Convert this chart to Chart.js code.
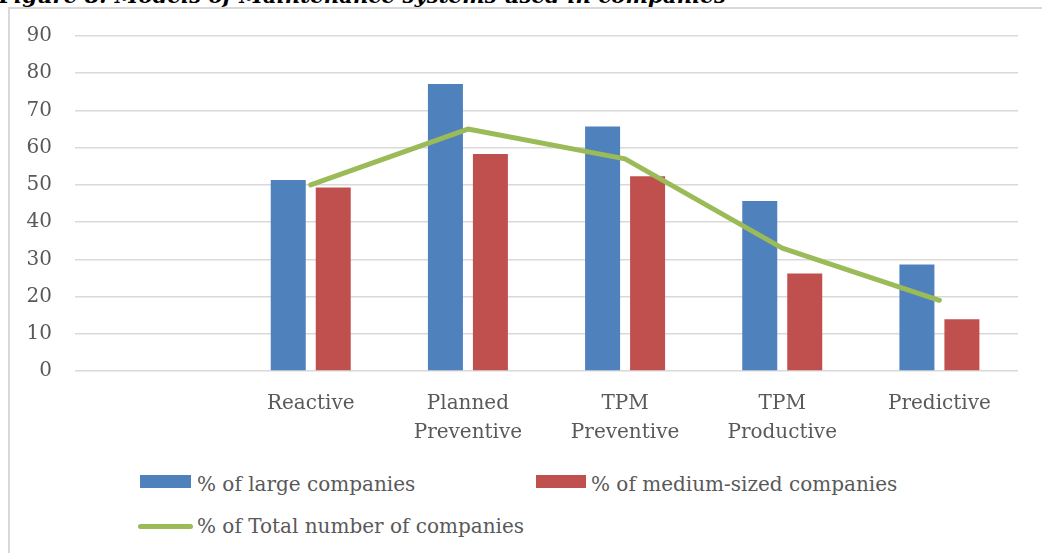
<!DOCTYPE html>
<html>
<head>
<meta charset="utf-8">
<script src="https://cdn.jsdelivr.net/npm/chart.js@4.4.1/dist/chart.umd.min.js"></script>
<style>
  html, body { margin: 0; padding: 0; background: #fff; }
  body { width: 1042px; height: 553px; position: relative; overflow: hidden; font-family: "DejaVu Serif", serif; }
  #title { position: absolute; left: -1px; top: -15px; font: italic bold 21.3px/21px "DejaVu Serif", serif; color: #000; white-space: nowrap; }
  #frame { position: absolute; left: 8px; top: 7px; width: 1100px; height: 600px; border-left: 2px solid #D9D9D9; border-top: 2px solid #D9D9D9; }
  #chart { position: absolute; left: 0; top: 0; }
  .leg-text { position: absolute; font-size: 20px; line-height: 24px; color: #595959; white-space: nowrap; }
  .leg-box { position: absolute; }
</style>
</head>
<body>
<div id="title">Figure 8: Models of Maintenance systems used in companies</div>
<div id="frame"></div>
<canvas id="chart" width="1042" height="450"></canvas>
<div id="legend"></div>

<script>
/* ---------- data ---------- */
const categories = ["", "Reactive", ["Planned", "Preventive"], ["TPM", "Preventive"], ["TPM", "Productive"], "Predictive"];
const largeCompanies = [null, 51.3, 77.1, 65.7, 45.7, 28.6];
const mediumCompanies = [null, 49.3, 58.3, 52.3, 26.2, 13.9];
const totalCompanies = [null, 50, 65, 57, 33, 19];
const yMin = 0, yMax = 90, yStep = 10;

const seriesNames = ["% of large companies", "% of medium-sized companies", "% of Total number of companies"];
const seriesColors = ["#4F81BD", "#C0504D", "#9BBB59"];

const textColor = "#595959";
const gridColor = "#D9D9D9";
const fontFamily = "'DejaVu Serif', serif";

const chart = new Chart(document.getElementById("chart"), {
  type: "bar",
  data: {
    labels: categories,
    datasets: [
      { label: seriesNames[0], data: largeCompanies, backgroundColor: seriesColors[0], order: 2,
        categoryPercentage: 0.5725, barPercentage: 0.778 },
      { label: seriesNames[1], data: mediumCompanies, backgroundColor: seriesColors[1], order: 2,
        categoryPercentage: 0.5725, barPercentage: 0.778 },
      { type: "line", label: seriesNames[2], data: totalCompanies, borderColor: seriesColors[2],
        backgroundColor: seriesColors[2], borderWidth: 5, pointRadius: 0, tension: 0,
        borderCapStyle: "round", borderJoinStyle: "round", order: 1 }
    ]
  },
  options: {
    responsive: false,
    animation: false,
    layout: { padding: { left: 0, top: 36, right: 24, bottom: 0 } },
    plugins: { legend: { display: false }, tooltip: { enabled: false } },
    scales: {
      x: {
        grid: { display: false },
        border: { display: false },
        ticks: { color: textColor, padding: 10.5, maxRotation: 0, autoSkip: false,
                 font: { family: fontFamily, size: 20, lineHeight: 1.45 } },
        afterFit: s => { s.height = 79; }
      },
      y: {
        min: yMin, max: yMax,
        grid: { color: gridColor, lineWidth: 1.5, drawTicks: false },
        border: { display: false },
        ticks: { stepSize: yStep, color: textColor, padding: 23,
                 font: { family: fontFamily, size: 20 } },
        afterFit: s => { s.width = 75; }
      }
    }
  }
});

/* ---------- legend (html, built from the datasets) ---------- */
const legendSlots = [
  { box: [140, 475, 51, 13], text: [197, 471.5] },
  { box: [536, 475, 50, 13], text: [591, 471.5] },
  { box: [138, 523.5, 55, 5], text: [197, 514] }
];
const legendEl = document.getElementById("legend");
chart.data.datasets.forEach((ds, i) => {
  const slot = legendSlots[i];
  const box = document.createElement("div");
  box.className = "leg-box";
  box.style.cssText = `left:${slot.box[0]}px;top:${slot.box[1]}px;width:${slot.box[2]}px;height:${slot.box[3]}px;background:${ds.type === "line" ? ds.borderColor : ds.backgroundColor};` +
    (ds.type === "line" ? "border-radius:3px;" : "");
  const txt = document.createElement("div");
  txt.className = "leg-text";
  txt.style.left = slot.text[0] + "px";
  txt.style.top = slot.text[1] + "px";
  txt.textContent = ds.label;
  legendEl.appendChild(box);
  legendEl.appendChild(txt);
});
</script>
</body>
</html>
